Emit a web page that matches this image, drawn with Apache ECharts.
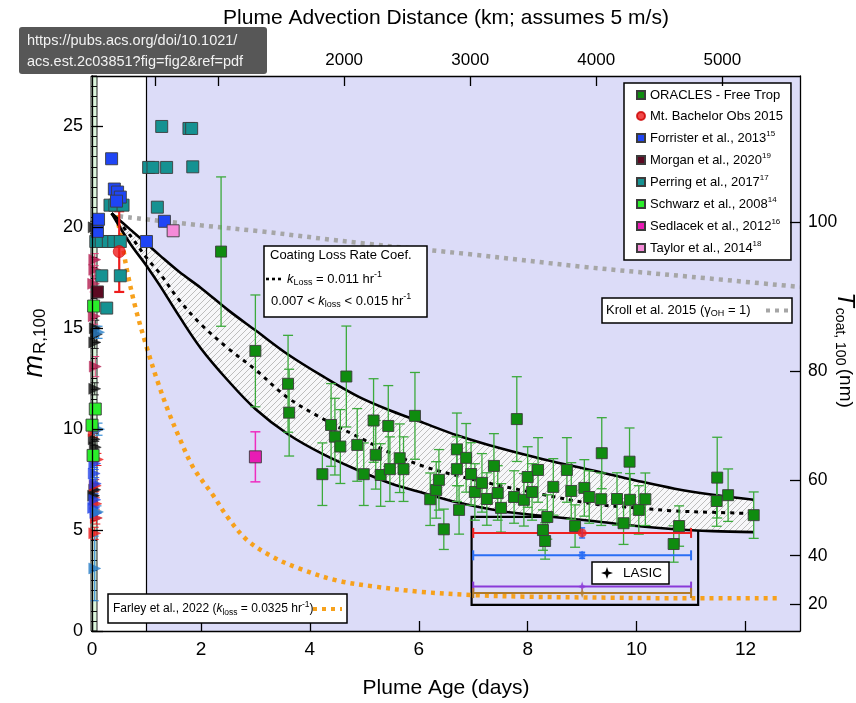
<!DOCTYPE html>
<html>
<head>
<meta charset="utf-8">
<script src="https://cdn.jsdelivr.net/npm/echarts@6/dist/echarts.min.js"></script>
<style>
html, body { margin: 0; padding: 0; background: #fff; }
#chart { width: 856px; height: 703px; }
</style>
</head>
<body>
<div id="chart"></div>
<script>
// ---------------- data ----------------
const distTickKm = [500, 1000, 2000, 3000, 4000, 5000];
const distLabelKm = [1000, 2000, 3000, 4000, 5000];
const coatLabels = [20, 40, 60, 80, 100];          // coating thickness (nm)
const coatAtMR = [1.34, 3.73, 7.49, 12.89, 20.25];   // matching mR values

// ORACLES free-troposphere plumes
const oraclesAge = [2.37, 3.0, 3.6, 3.62, 4.23, 4.39, 4.46, 4.56, 4.67, 4.87, 4.99, 5.17, 5.21, 5.3, 5.44, 5.47, 5.65, 5.72, 5.93,
  6.21, 6.32, 6.37, 6.46, 6.7, 6.7, 6.74, 6.87, 6.96, 7.03, 7.16, 7.25, 7.38, 7.45, 7.51, 7.75, 7.8, 7.93, 8.0, 8.08, 8.19,
  8.28, 8.32, 8.36, 8.47, 8.72, 8.8, 8.87, 9.04, 9.13, 9.36, 9.35, 9.64, 9.76, 9.87, 9.88, 10.04, 10.16, 10.68, 10.78,
  11.48, 11.47, 11.68, 12.15];
const oraclesMR = [18.8, 13.88, 12.25, 10.82, 7.77, 10.21, 9.63, 9.14, 12.61, 9.22, 7.77, 10.43, 8.73, 7.73, 10.16, 8.02, 8.56, 8.02, 10.66,
  6.53, 6.99, 7.49, 5.04, 9.0, 8.02, 6.0, 8.58, 7.78, 6.89, 7.34, 6.54, 8.18, 6.84, 6.1, 6.64, 10.5, 6.5, 7.63, 6.89, 7.98,
  5.0, 4.46, 5.65, 7.14, 7.98, 6.94, 5.2, 7.09, 6.64, 8.81, 6.53, 6.54, 5.34, 8.39, 6.5, 6.0, 6.53, 4.31, 5.2,
  7.6, 6.44, 6.73, 5.74];
const oraclesErr = [3.7, 2.77, 2.4, 2.15, 1.55, 2.05, 1.9, 1.83, 2.5, 1.8, 1.55, 2.07, 1.7, 1.55, 2.0, 1.6, 1.7, 1.6, 2.15,
  1.3, 1.4, 1.5, 1.0, 1.8, 1.6, 1.2, 1.7, 1.55, 1.4, 1.45, 1.3, 1.6, 1.35, 1.2, 1.3, 2.1, 1.3, 1.5, 1.4, 1.6,
  1.0, 0.9, 1.1, 1.4, 1.6, 1.4, 1.05, 1.4, 1.3, 1.76, 1.3, 1.3, 1.05, 1.67, 1.3, 1.2, 1.3, 0.9, 1.0,
  2.0, 1.25, 1.3, 1.15];

// Mt. Bachelor Observatory 2015
const bachelorAge = [0.5];
const bachelorMR = [18.8];
const bachelorLo = [16.8];
const bachelorHi = [20.8];

// Forrister et al., 2013
const forristerAge = [0.36, 0.41, 0.47, 0.52, 0.45, 0.12, 0.1, 1.0, 1.33];
const forristerMR = [23.4, 21.9, 21.75, 21.5, 21.3, 20.4, 19.8, 19.3, 20.3];

// Morgan et al., 2020
const morganAge = [0.1];
const morganMR = [16.8];

// Perring et al., 2017
const perringAge = [1.28, 1.78, 1.83, 1.04, 1.12, 1.37, 1.85, 1.2, 0.33, 0.42, 0.57, 0.07, 0.17, 0.3, 0.4, 0.52, 0.18, 0.52, 0.27];
const perringMR = [25.0, 24.9, 24.9, 22.97, 22.97, 22.97, 23.0, 21.0, 21.1, 21.1, 21.1, 19.3, 19.3, 19.3, 19.3, 19.3, 17.6, 17.6, 16.0];

// Schwarz et al., 2008
const schwarzAge = [0.03, 0.06, 0.0, 0.02];
const schwarzMR = [16.1, 11.0, 10.2, 8.7];

// Sedlacek et al., 2012
const sedlacekAge = [3.0];
const sedlacekMR = [8.63];
const sedlacekErr = [1.24];

// Taylor et al., 2014
const taylorAge = [1.49];
const taylorMR = [19.83];

// near-source observations at age ~0: [age, mR, error]
const freshBlack = [[0.04, 20.0, 0.3], [0.06, 15.0, 0.4], [0.08, 14.7, 0.4], [0.05, 14.3, 0.3], [0.04, 9.5, 0.3], [0.06, 9.1, 0.3], [0.05, 7.0, 0.3], [0.03, 6.7, 0.3], [0.05, 12.0, 0.3]];
const freshCrimson = [[0.05, 17.9, 0.5], [0.03, 17.2, 0.4], [0.06, 13.1, 0.5], [0.04, 15.6, 0.4], [0.05, 18.4, 0.3]];
const freshRed = [[0.05, 4.84, 0.3], [0.08, 5.6, 0.3], [0.06, 7.2, 0.3], [0.1, 8.5, 0.3], [0.04, 9.9, 0.3], [0.07, 6.3, 0.3]];
const freshBlue = [[0.05, 8.3, 0.3], [0.04, 7.8, 0.3], [0.06, 7.3, 0.3], [0.05, 6.5, 0.3], [0.07, 5.85, 0.3], [0.03, 6.1, 0.3]];
const freshSteel = [[0.05, 3.1, 1.6], [0.12, 14.8, 0.3], [0.12, 10.0, 0.3], [0.1, 5.9, 0.3]];

// coating-loss fits: k = 0.007 (upper), 0.011 (middle), 0.015 (lower) hr^-1
const curveAge = [0.36, 0.7, 1.0, 1.25, 1.6, 2.0, 2.5, 3.0, 3.6, 4.25, 4.9, 5.5, 6.1, 6.7, 7.5, 8.3, 9.2, 10.0, 10.7, 11.4, 12.15];
const upperMR = [20.7, 19.9, 19.2, 18.6, 17.8, 17.0, 15.9, 14.9, 13.7, 12.6, 11.6, 10.9, 10.3, 9.7, 9.05, 8.5, 7.95, 7.45, 7.05, 6.75, 6.5];
const middleMR = [20.7, 19.6, 18.5, 17.7, 16.4, 15.2, 14.0, 12.95, 11.55, 10.5, 9.6, 8.8, 8.15, 7.7, 7.2, 6.75, 6.3, 6.1, 5.95, 5.88, 5.82];
const lowerMR = [20.7, 19.2, 18.1, 17.1, 15.6, 14.0, 12.4, 11.0, 9.75, 8.75, 7.95, 7.3, 6.83, 6.38, 5.95, 5.7, 5.45, 5.2, 5.04, 4.95, 4.9];

// Kroll et al. 2015 (gamma_OH = 1)
const krollAge = [0.5, 2, 3.1, 5, 7, 9, 11, 13];
const krollMR = [20.55, 20.1, 19.8, 19.2, 18.65, 18.05, 17.55, 17.05];

// Farley et al., 2022 (k_loss = 0.0325 hr^-1)
const farleyAge = [0.45, 0.55, 0.64, 0.8, 1.0, 1.2, 1.4, 1.6, 1.86, 2.23, 2.5, 2.85, 3.3, 3.8, 4.5, 5.2, 6, 7, 8, 9.5, 11, 12.6];
const farleyMR = [20.6, 19.3, 17.9, 16.0, 14.1, 12.4, 10.9, 9.6, 8.1, 6.7, 5.6, 4.5, 3.7, 3.1, 2.5, 2.2, 1.95, 1.78, 1.7, 1.65, 1.62, 1.62];

// LASIC campaign summaries (age range 7-11 days, centred at 9)
const lasicAgeMid = 9;
const lasicAgeLo = 7;
const lasicAgeHi = 11;
const lasicMR = [4.86, 3.75, 2.2, 1.88];
const lasicMRErr = [0.25, 0.15, 0, 0];
const lasicBox = [6.97, 11.13, 1.29, 5.65];  // age min/max, mR min/max

const legendNames = ['ORACLES - Free Trop', 'Mt. Bachelor Obs 2015', 'Forrister et al., 2013', 'Morgan et al., 2020',
  'Perring et al., 2017', 'Schwarz et al., 2008', 'Sedlacek et al., 2012', 'Taylor et al., 2014'];
const legendRefs = ['', '', '15', '19', '17', '14', '16', '18'];

// ---------------- drawing ----------------
const FONT = '"Liberation Sans", Arial, Helvetica, sans-serif';
const kmPerDay = 5 * 86400 / 1000;   // 5 m/s advection

const zip = (a, b) => a.map((v, i) => [v, b[i]]);

function hatchPattern() {
  const s = 6;
  const c = document.createElement('canvas');
  c.width = s; c.height = s;
  const g = c.getContext('2d');
  g.fillStyle = '#f7f7f9';
  g.fillRect(0, 0, s, s);
  g.strokeStyle = '#bdbdbd';
  g.lineWidth = 1;
  g.beginPath();
  g.moveTo(0, s); g.lineTo(s, 0);
  g.moveTo(-1, 1); g.lineTo(1, -1);
  g.moveTo(s - 1, s + 1); g.lineTo(s + 1, s - 1);
  g.stroke();
  return c;
}

function vErrors(name, pts, color, opt) {
  opt = opt || {};
  return {
    type: 'custom', name: name, silent: true, z: opt.z || 4,
    data: pts, encode: { x: 0, y: [1, 2] },
    renderItem: function (params, api) {
      const t = api.value(0), lo = api.value(1), hi = api.value(2);
      const a = api.coord([t, lo]), b = api.coord([t, hi]);
      const w = opt.cap || 5;
      const st = { stroke: color, lineWidth: opt.width || 1.3 };
      const ch = [{ type: 'line', shape: { x1: a[0], y1: a[1], x2: b[0], y2: b[1] }, style: st }];
      ch.push({ type: 'line', shape: { x1: a[0] - w, y1: a[1], x2: a[0] + w, y2: a[1] }, style: st });
      ch.push({ type: 'line', shape: { x1: b[0] - w, y1: b[1], x2: b[0] + w, y2: b[1] }, style: st });
      return { type: 'group', children: ch };
    }
  };
}

function hErrors(name, pts, colors) {
  return {
    type: 'custom', name: name, silent: true, z: 6,
    data: pts, encode: { x: [0, 1], y: 2 },
    renderItem: function (params, api) {
      const lo = api.value(0), hi = api.value(1), m = api.value(2);
      const a = api.coord([lo, m]), b = api.coord([hi, m]);
      const st = { stroke: colors[params.dataIndex], lineWidth: 2 };
      return {
        type: 'group', children: [
          { type: 'line', shape: { x1: a[0], y1: a[1], x2: b[0], y2: b[1] }, style: st },
          { type: 'line', shape: { x1: a[0], y1: a[1] - 5, x2: a[0], y2: a[1] + 5 }, style: st },
          { type: 'line', shape: { x1: b[0], y1: b[1] - 5, x2: b[0], y2: b[1] + 5 }, style: st }
        ]
      };
    }
  };
}

function squares(name, ages, mrs, color, size, z) {
  return {
    type: 'scatter', name: name, symbol: 'rect', symbolSize: size || 11, z: z || 5,
    data: zip(ages, mrs),
    itemStyle: { color: color, borderColor: '#3c3c3c', borderWidth: 0.9, opacity: 1 },
    emphasis: { disabled: true }
  };
}

function triangles(name, pts, color) {
  return {
    type: 'scatter', name: name, symbol: 'triangle', symbolRotate: -90, symbolSize: [11, 12], z: 5,
    data: pts.map(p => [p[0], p[1]]),
    itemStyle: { color: color, borderColor: color, borderWidth: 0.5 },
    emphasis: { disabled: true }
  };
}

function curve(name, ages, mrs, style, z) {
  return {
    type: 'line', name: name, data: zip(ages, mrs), showSymbol: false, symbol: 'none',
    smooth: 0.35, z: z || 3, silent: true, lineStyle: style, emphasis: { disabled: true }
  };
}

const hatch = hatchPattern();
const STAR4 = 'path://M0,-10 L2.6,-2.6 10,0 2.6,2.6 0,10 -2.6,2.6 -10,0 -2.6,-2.6Z';
const lasicColors = ['#ee2020', '#2a6ef5', '#8a3ad8', '#b07a2a'];
const lasicSymbols = ['circle', 'diamond', STAR4, STAR4];

const series = [
  // plot background: lavender beyond one day, with a marker line at 1 day
  {
    type: 'line', name: 'bg', data: [[1, 0]], symbol: 'none', z: 1, silent: true,
    lineStyle: { opacity: 0 },
    markArea: { silent: true, itemStyle: { color: '#dcdcf8' }, data: [[{ xAxis: 1 }, { xAxis: 13 }]] },
    markLine: { silent: true, symbol: 'none', label: { show: false }, lineStyle: { color: '#000', width: 1.2, type: 'solid' }, data: [{ xAxis: 1 }] }
  },
  // hatched band between the k = 0.007 and 0.015 hr^-1 fits
  {
    type: 'custom', name: 'band', silent: true, z: 2, data: [[curveAge[0], upperMR[0]]],
    renderItem: function (params, api) {
      const pts = [];
      for (let i = 0; i < curveAge.length; i++) pts.push(api.coord([curveAge[i], upperMR[i]]));
      for (let i = curveAge.length - 1; i >= 0; i--) pts.push(api.coord([curveAge[i], lowerMR[i]]));
      return { type: 'polygon', shape: { points: pts }, style: { fill: { image: hatch, repeat: 'repeat' }, stroke: null } };
    }
  },
  curve('Kroll', krollAge, krollMR, { color: '#a6a6a6', width: 4.5, type: [4, 5] }, 2),
  curve('Farley', farleyAge, farleyMR, { color: '#f7a11c', width: 4.5, type: [4, 5] }, 2),
  curve('upper fit', curveAge, upperMR, { color: '#000', width: 2.6 }),
  curve('lower fit', curveAge, lowerMR, { color: '#000', width: 2.6 }),
  curve('middle fit', curveAge, middleMR, { color: '#000', width: 3, type: [4, 5] }),

  // error bars
  vErrors('ORACLES err', oraclesAge.map((t, i) => [t, oraclesMR[i] - oraclesErr[i], oraclesMR[i] + oraclesErr[i]]), '#3caa3c'),
  vErrors('Bachelor err', bachelorAge.map((t, i) => [t, bachelorLo[i], bachelorHi[i]]), '#ee1c1c', { width: 2.2 }),
  vErrors('Sedlacek err', sedlacekAge.map((t, i) => [t, sedlacekMR[i] - sedlacekErr[i], sedlacekMR[i] + sedlacekErr[i]]), '#ee2ec0', { width: 1.5 }),
  vErrors('black err', freshBlack.map(p => [p[0], p[1] - p[2], p[1] + p[2]]), '#222', { cap: 4, width: 1 }),
  vErrors('crimson err', freshCrimson.map(p => [p[0], p[1] - p[2], p[1] + p[2]]), '#e0407a', { cap: 4, width: 1 }),
  vErrors('red err', freshRed.map(p => [p[0], p[1] - p[2], p[1] + p[2]]), '#ee2020', { cap: 4, width: 1 }),
  vErrors('blue err', freshBlue.map(p => [p[0], p[1] - p[2], p[1] + p[2]]), '#3060f0', { cap: 4, width: 1 }),
  vErrors('steel err', freshSteel.map(p => [p[0], p[1] - p[2], p[1] + p[2]]), '#3a8fd8', { cap: 4, width: 1.2 }),

  // near-source triangles
  triangles('fresh black', freshBlack, '#111'),
  triangles('fresh crimson', freshCrimson, '#b41e50'),
  triangles('fresh red', freshRed, '#ee1c1c'),
  triangles('fresh blue', freshBlue, '#1f40e8'),
  triangles('fresh steel', freshSteel, '#2a80c8'),

  // literature and campaign points
  squares('Perring et al., 2017', perringAge, perringMR, '#159292', 12),
  squares('Forrister et al., 2013', forristerAge, forristerMR, '#1f45f5', 12),
  squares('Morgan et al., 2020', morganAge, morganMR, '#5c0a22', 12),
  squares('Schwarz et al., 2008', schwarzAge, schwarzMR, '#2aee2a', 12),
  squares('Sedlacek et al., 2012', sedlacekAge, sedlacekMR, '#e81cb4', 12),
  squares('Taylor et al., 2014', taylorAge, taylorMR, '#f58ad8', 12),
  {
    type: 'scatter', name: 'Mt. Bachelor Obs 2015', symbol: 'circle', symbolSize: 12, z: 5,
    data: zip(bachelorAge, bachelorMR), itemStyle: { color: '#ee1c1c', borderColor: '#c00', borderWidth: 0.8 },
    emphasis: { disabled: true }
  },
  squares('ORACLES - Free Trop', oraclesAge, oraclesMR, '#0f8c0f', 11, 6),

  // LASIC ranges
  hErrors('LASIC ranges', lasicMR.map(m => [lasicAgeLo, lasicAgeHi, m]), lasicColors),
  vErrors('LASIC err', lasicMR.map((m, i) => [lasicAgeMid, m - lasicMRErr[i], m + lasicMRErr[i]]).slice(0, 2), '#2a6ef5', { cap: 3, width: 1.5, z: 6 }),
  {
    type: 'scatter', name: 'LASIC', z: 7, data: lasicMR.map((m, i) => ({
      value: [lasicAgeMid, m], symbol: lasicSymbols[i], symbolSize: i < 2 ? 9 : 10,
      itemStyle: { color: lasicColors[i] }
    })),
    markArea: {
      silent: true,
      itemStyle: { color: 'rgba(0,0,0,0)', borderColor: '#000', borderWidth: 2.2 },
      data: [[{ coord: [lasicBox[0], lasicBox[3]] }, { coord: [lasicBox[1], lasicBox[2]] }]]
    },
    emphasis: { disabled: true }
  }
];

const axisLine = { show: true, onZero: false, lineStyle: { color: '#000', width: 1.3 } };
const tickStyle = { color: '#000', width: 1.3 };
const plain = v => String(v);

const supRich = {
  s: { fontSize: 8, padding: [0, 0, 8, 0], fontFamily: FONT, color: '#000' }
};

// annotation boxes, each child carries its own z
const Z = 30;
const sub = { font: '9px ' + FONT, padding: [7, 0, 0, 0] };
const sup = { font: '9px ' + FONT, padding: [0, 0, 8, 0] };
const ital = { font: 'italic 13px ' + FONT };
const sub12 = { font: '8.5px ' + FONT, padding: [7, 0, 0, 0] };
const sup12 = { font: '8.5px ' + FONT, padding: [0, 0, 8, 0] };
const ital12 = { font: 'italic 12px ' + FONT };
const annotations = [
  // coating loss box
  { type: 'rect', shape: { x: 264, y: 246, width: 163, height: 71 }, style: { fill: '#fff', stroke: '#000', lineWidth: 1.5 } },
  { type: 'text', x: 270, y: 255, style: { text: 'Coating Loss Rate Coef.', font: '13px ' + FONT, fill: '#000', verticalAlign: 'middle' } },
  { type: 'line', shape: { x1: 266, y1: 279, x2: 283, y2: 279 }, style: { stroke: '#000', lineWidth: 2.6, lineDash: [3, 3] } },
  { type: 'text', x: 287, y: 279, style: { text: '{i|k}{b|Loss} = 0.011 hr{p|-1}', verticalAlign: 'middle', fill: '#000', font: '13px ' + FONT, rich: { i: ital, b: sub, p: sup } } },
  { type: 'text', x: 271, y: 301, style: { text: '0.007 < {i|k}{b|loss} < 0.015 hr{p|-1}', verticalAlign: 'middle', fill: '#000', font: '13px ' + FONT, rich: { i: ital, b: sub, p: sup } } },
  // Kroll box
  { type: 'rect', shape: { x: 602, y: 298, width: 190, height: 25 }, style: { fill: '#fff', stroke: '#000', lineWidth: 1.5 } },
  { type: 'text', x: 606, y: 310.5, style: { text: 'Kroll et al. 2015 (\u03b3{b|OH} = 1)', verticalAlign: 'middle', fill: '#000', font: '13px ' + FONT, rich: { b: sub } } },
  { type: 'line', shape: { x1: 766, y1: 310.5, x2: 788, y2: 310.5 }, style: { stroke: '#a6a6a6', lineWidth: 4, lineDash: [4, 5] } },
  // Farley box
  { type: 'rect', shape: { x: 108, y: 594, width: 239, height: 29 }, style: { fill: '#fff', stroke: '#000', lineWidth: 1.5 } },
  { type: 'text', x: 113, y: 609, style: { text: 'Farley et al., 2022 ({i|k}{b|loss} = 0.0325 hr{p|-1})', verticalAlign: 'middle', fill: '#000', font: '12px ' + FONT, rich: { i: ital12, b: sub12, p: sup12 } } },
  { type: 'line', shape: { x1: 313, y1: 609, x2: 342, y2: 609 }, style: { stroke: '#f7a11c', lineWidth: 4, lineDash: [4, 5] } },
  // LASIC box
  { type: 'rect', shape: { x: 592, y: 562, width: 77, height: 22 }, style: { fill: '#fff', stroke: '#000', lineWidth: 1.5 } },
  { type: 'polygon', shape: { points: [[607, 567], [608.5, 571.5], [613, 573], [608.5, 574.5], [607, 579], [605.5, 574.5], [601, 573], [605.5, 571.5]] }, style: { fill: '#000' } },
  { type: 'text', x: 623, y: 573, style: { text: 'LASIC', font: '13.5px ' + FONT, fill: '#000', verticalAlign: 'middle' } },
  // axis titles
  { type: 'text', x: 446, y: 18, style: { text: 'Plume Advection Distance (km; assumes 5 m/s)', font: '21px ' + FONT, fill: '#000', align: 'center', verticalAlign: 'middle' } },
  { type: 'text', x: 446, y: 688, style: { text: 'Plume Age (days)', font: '21px ' + FONT, fill: '#000', align: 'center', verticalAlign: 'middle' } },
  {
    type: 'text', x: 34, y: 343, rotation: Math.PI / 2,
    style: { text: '{m|m}{b|R,100}', align: 'center', verticalAlign: 'middle', fill: '#000', rich: { m: { font: 'italic 27px ' + FONT }, b: { font: '17px ' + FONT, padding: [12, 0, 0, 1] } } }
  },
  {
    type: 'text', x: 845, y: 350, rotation: -Math.PI / 2,
    style: { text: '{t|T}{b|coat, 100} {n|(nm)}', align: 'center', verticalAlign: 'middle', fill: '#000', rich: { t: { font: 'italic 24px ' + FONT }, b: { font: '14px ' + FONT, padding: [10, 0, 0, 1] }, n: { font: '19px ' + FONT } } }
  }
].map(e => Object.assign({ z: Z }, e));

// link overlay on top of everything
const overlay = [
  { type: 'rect', shape: { x: 19, y: 27, width: 248, height: 47, r: 3 }, style: { fill: '#575757' } },
  { type: 'text', x: 27, y: 41, style: { text: 'https://pubs.acs.org/doi/10.1021/', font: '14.5px ' + FONT, fill: '#f2f2f2', verticalAlign: 'middle' } },
  { type: 'text', x: 27, y: 62, style: { text: 'acs.est.2c03851?fig=fig2&ref=pdf', font: '14.5px ' + FONT, fill: '#f2f2f2', verticalAlign: 'middle' } }
].map(e => Object.assign({ z: 60 }, e));

const option = {
  animation: false,
  backgroundColor: '#fff',
  textStyle: { fontFamily: FONT },
  grid: [
    { left: 92, right: 56, top: 76, bottom: 72 },
    { left: 91, width: 6, top: 76, bottom: 72, show: true, backgroundColor: '#dcf6dc', borderColor: '#222', borderWidth: 1 }
  ],
  xAxis: [
    {
      gridIndex: 0, type: 'value', position: 'bottom', min: 0, max: 13, interval: 2, z: 12,
      axisLine: axisLine, axisTick: { inside: true, length: 10, lineStyle: tickStyle },
      axisLabel: { color: '#000', fontSize: 19, margin: 9, showMaxLabel: false, formatter: plain },
      splitLine: { show: false }
    },
    {
      gridIndex: 0, type: 'value', position: 'top', min: 0, max: 13 * kmPerDay, z: 12,
      axisLine: axisLine,
      axisTick: { inside: true, length: 10, lineStyle: tickStyle, customValues: distTickKm },
      axisLabel: { color: '#000', fontSize: 17, margin: 7, customValues: distLabelKm, formatter: plain },
      splitLine: { show: false }
    },
    { gridIndex: 1, type: 'value', min: 0, max: 1, show: false }
  ],
  yAxis: [
    {
      gridIndex: 0, type: 'value', min: 0, max: 27.5, interval: 5, z: 12,
      axisLine: axisLine, axisTick: { inside: true, length: 11, lineStyle: tickStyle },
      axisLabel: { color: '#000', fontSize: 18, margin: 9, showMaxLabel: false, formatter: plain },
      splitLine: { show: false }
    },
    {
      gridIndex: 0, type: 'value', position: 'right', min: 0, max: 27.5, z: 12,
      axisLine: axisLine,
      axisTick: { inside: true, length: 10, lineStyle: tickStyle, customValues: coatAtMR },
      axisLabel: {
        color: '#000', fontSize: 17.5, margin: 8, customValues: coatAtMR,
        formatter: v => { const i = coatAtMR.findIndex(c => Math.abs(c - v) < 1e-6); return i >= 0 ? String(coatLabels[i]) : ''; }
      },
      splitLine: { show: false }
    },
    {
      gridIndex: 1, type: 'value', min: 0, max: 27.5, interval: 0.5,
      axisLine: { show: false }, axisTick: { show: false }, axisLabel: { show: false },
      splitLine: { show: true, lineStyle: { color: '#111', width: 1 } }
    }
  ],
  legend: {
    data: legendNames.map((n, i) => ({ name: n, icon: i === 1 ? 'circle' : 'rect' })),
    orient: 'vertical', left: 624, top: 83, padding: [5, 8, 5, 12],
    itemWidth: 8, itemHeight: 8, itemGap: 7,
    backgroundColor: '#fff', borderColor: '#000', borderWidth: 1.5, borderRadius: 0,
    selectedMode: false, z: 10,
    textStyle: { fontSize: 13, color: '#000', lineHeight: 14, fontFamily: FONT, rich: supRich },
    formatter: n => { const i = legendNames.indexOf(n); return legendRefs[i] ? n + '{s|' + legendRefs[i] + '}' : n; }
  },
  series: series,
  graphic: annotations.concat(overlay)
};

const chart = echarts.init(document.getElementById('chart'), null, { renderer: 'canvas' });
chart.setOption(option);
</script>
</body>
</html>
